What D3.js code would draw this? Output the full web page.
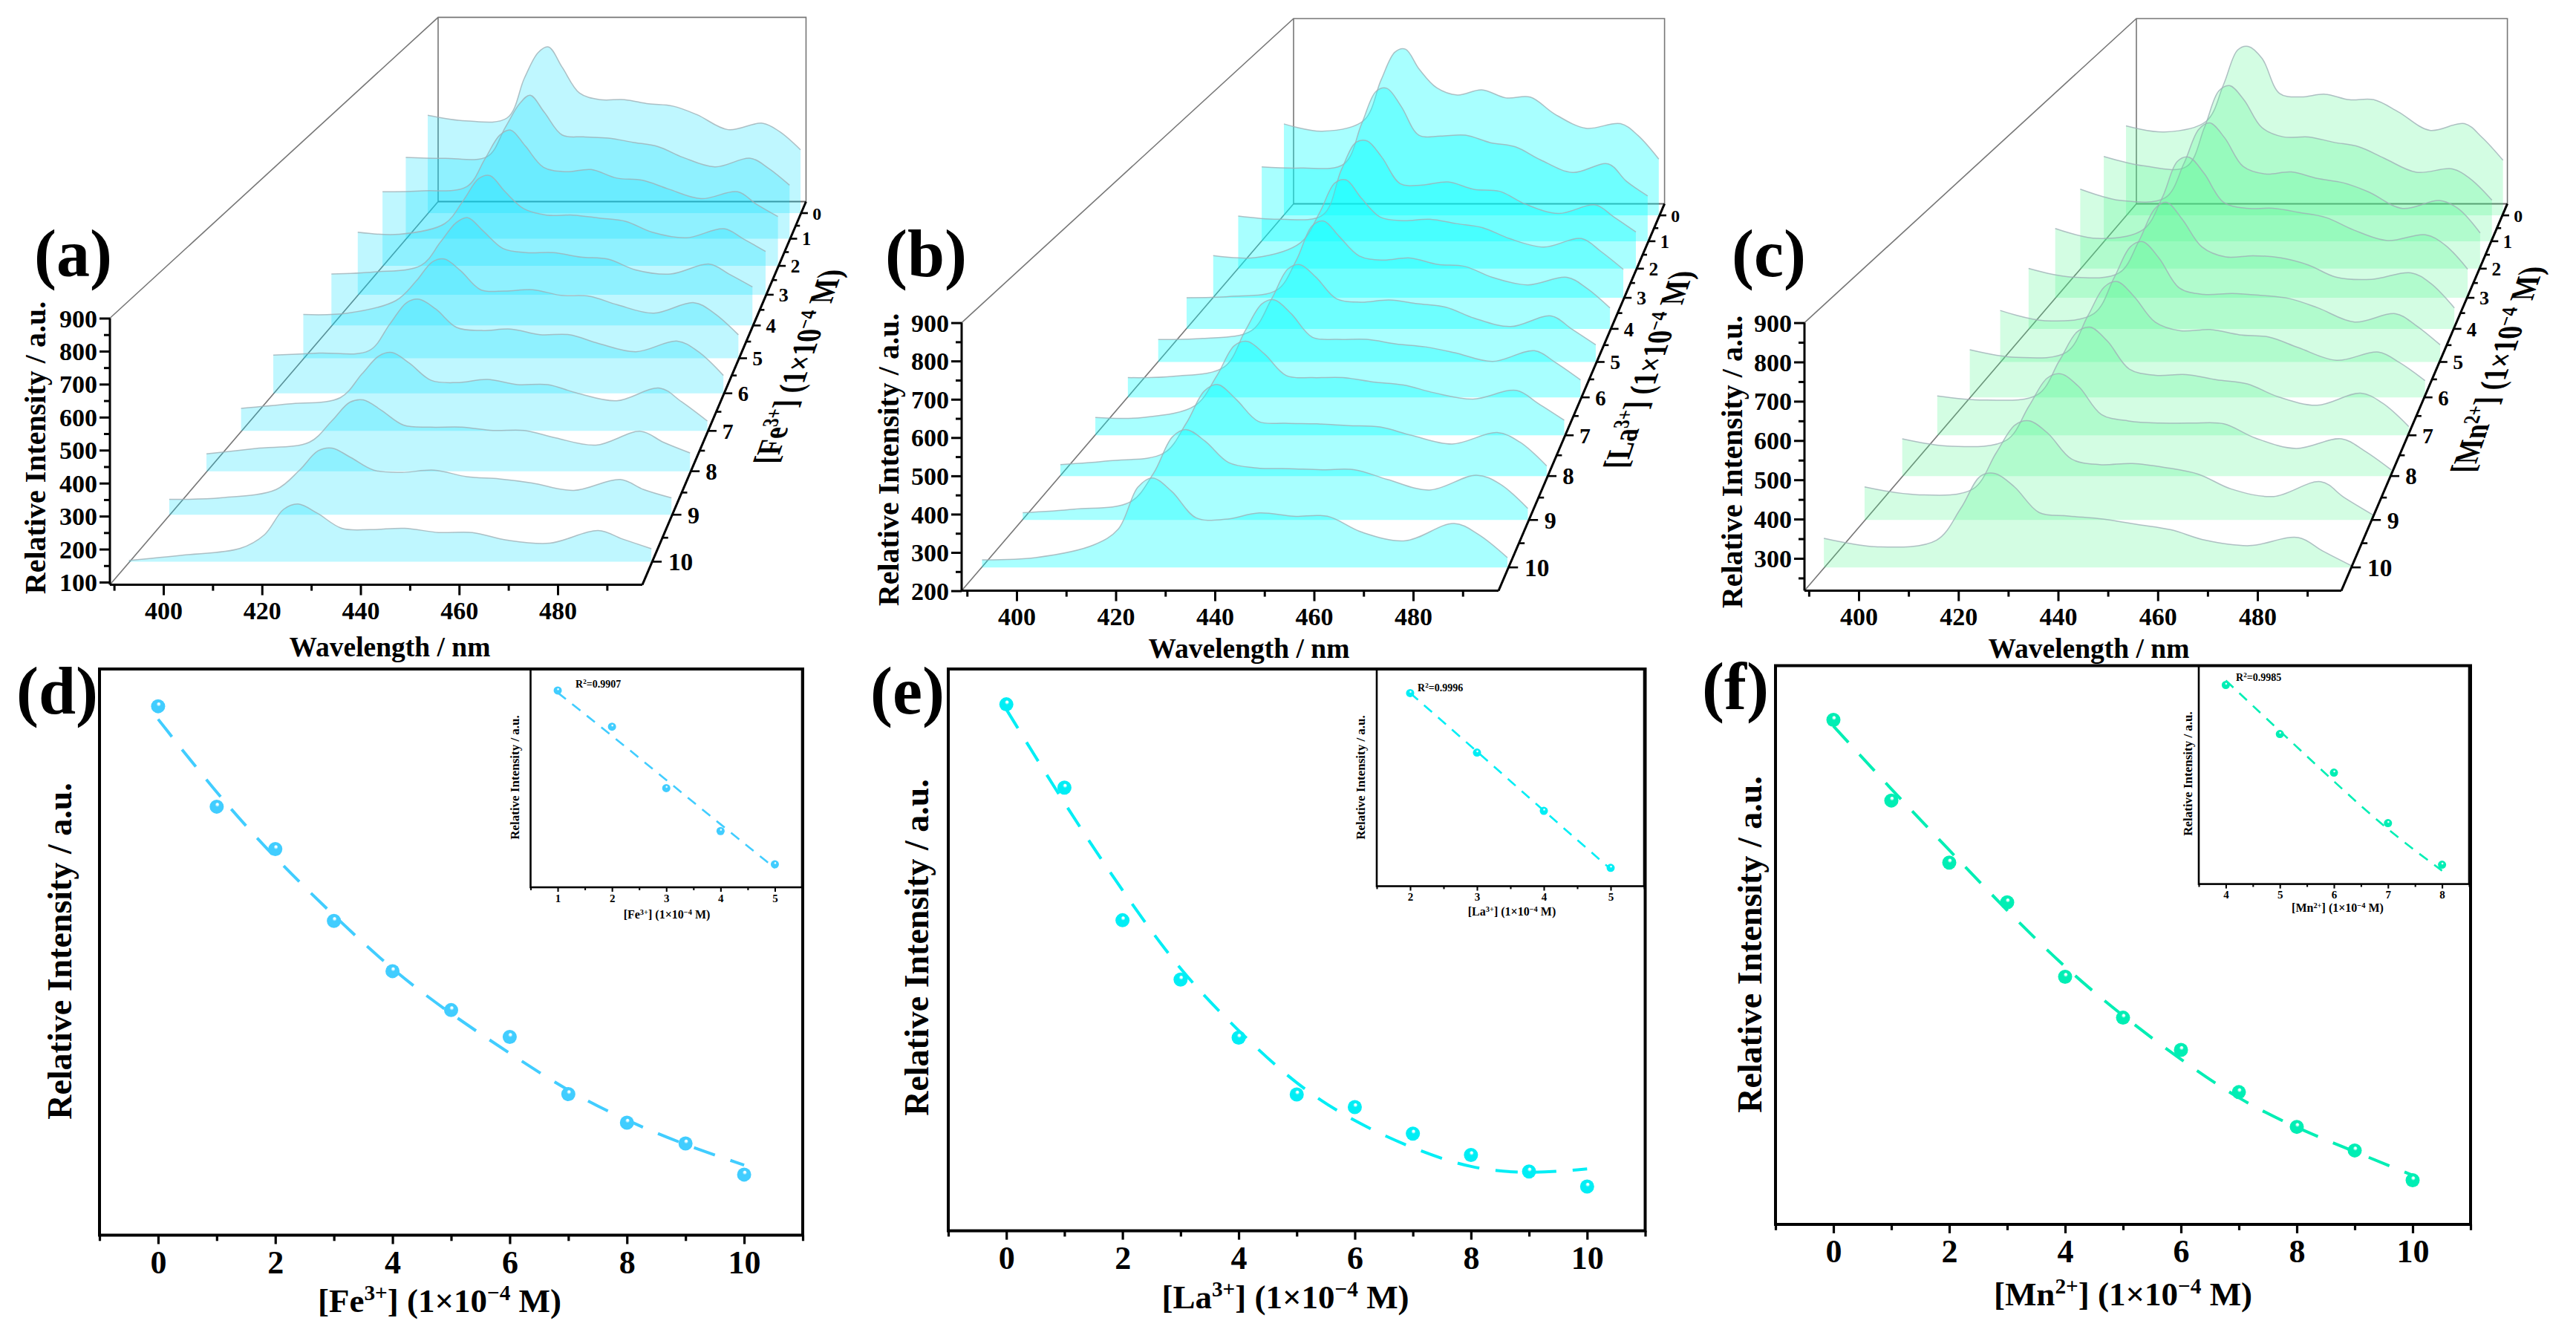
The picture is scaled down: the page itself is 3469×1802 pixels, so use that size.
<!DOCTYPE html>
<html>
<head>
<meta charset="utf-8">
<script src="https://cdn.jsdelivr.net/npm/d3@7"></script>
<style>
  body { margin: 0; background: #fff; }
  text { font-family: "Liberation Serif", serif; font-weight: bold; fill: #000; }
</style>
</head>
<body>
<svg id="chart" width="3469" height="1802"></svg>
<script>
// DATA
const wavelengths = [389, 400, 412, 417, 421, 424, 428, 433, 439, 446, 453, 460, 467, 476, 486, 491, 497];
const depthLabels = [0, 1, 2, 3, 4, 5, 6, 7, 8, 9, 10];

// spectra, one row per concentration 0..10
const feSpectra = [
  [523, 499, 512, 684, 795, 819, 730, 619, 591, 591, 573, 563, 526, 461, 489, 452, 374],
  [442, 438, 446, 568, 667, 703, 631, 536, 528, 523, 505, 487, 442, 402, 438, 397, 325],
  [402, 406, 423, 537, 633, 654, 589, 502, 484, 493, 458, 449, 414, 374, 402, 353, 301],
  [347, 339, 381, 474, 559, 571, 508, 440, 415, 415, 403, 390, 347, 325, 361, 322, 271],
  [297, 305, 330, 420, 494, 513, 461, 395, 379, 379, 362, 354, 313, 297, 335, 297, 248],
  [262, 267, 314, 386, 457, 468, 425, 354, 349, 354, 333, 330, 298, 267, 306, 267, 187],
  [237, 244, 253, 349, 425, 437, 402, 336, 325, 330, 310, 310, 279, 249, 287, 249, 164],
  [178, 193, 215, 297, 360, 371, 334, 275, 267, 278, 260, 260, 230, 204, 248, 201, 134],
  [158, 176, 197, 268, 330, 338, 304, 254, 247, 247, 236, 236, 211, 187, 233, 197, 161],
  [149, 154, 181, 243, 305, 314, 284, 243, 236, 243, 222, 215, 202, 178, 213, 181, 154],
  [104, 120, 141, 183, 262, 278, 249, 203, 199, 203, 190, 190, 167, 157, 196, 170, 140]
];
const laSpectra = [
  [541, 514, 554, 705, 809, 820, 745, 676, 649, 668, 638, 641, 578, 525, 542, 498, 410],
  [469, 465, 480, 627, 743, 754, 689, 584, 581, 584, 557, 542, 495, 449, 480, 418, 364],
  [385, 374, 389, 547, 644, 649, 592, 499, 494, 505, 479, 472, 427, 394, 424, 382, 329],
  [344, 337, 388, 490, 591, 602, 540, 475, 463, 468, 453, 439, 402, 373, 402, 359, 297],
  [303, 307, 328, 427, 540, 556, 504, 441, 427, 434, 413, 406, 370, 345, 370, 335, 269],
  [272, 275, 300, 402, 497, 511, 470, 402, 391, 398, 386, 375, 340, 313, 347, 306, 255],
  [261, 265, 294, 406, 489, 501, 458, 386, 379, 379, 365, 356, 338, 311, 344, 308, 254],
  [253, 253, 289, 378, 467, 480, 442, 378, 372, 372, 359, 350, 327, 308, 334, 295, 245],
  [233, 244, 266, 353, 445, 463, 421, 357, 352, 350, 345, 341, 317, 292, 325, 298, 229],
  [220, 230, 250, 330, 430, 450, 418, 359, 344, 342, 339, 339, 312, 283, 324, 300, 232],
  [220, 226, 260, 302, 413, 438, 402, 332, 328, 345, 336, 336, 294, 271, 317, 288, 226]
];
const mnSpectra = [
  [543, 521, 560, 695, 819, 832, 788, 661, 648, 658, 638, 638, 594, 527, 551, 501, 418],
  [517, 484, 481, 619, 748, 767, 717, 619, 586, 586, 567, 551, 511, 461, 473, 438, 363],
  [490, 451, 461, 578, 695, 717, 666, 568, 542, 549, 527, 512, 480, 424, 451, 424, 340],
  [448, 415, 444, 550, 671, 685, 631, 536, 515, 515, 501, 484, 444, 408, 427, 394, 313],
  [412, 384, 398, 501, 604, 625, 570, 481, 449, 453, 446, 423, 384, 377, 398, 364, 285],
  [378, 346, 368, 481, 577, 592, 541, 448, 428, 431, 425, 415, 386, 342, 368, 332, 271],
  [361, 338, 354, 463, 551, 566, 521, 444, 418, 422, 406, 399, 367, 329, 354, 322, 268],
  [332, 320, 336, 435, 518, 532, 491, 410, 392, 394, 379, 367, 330, 305, 340, 311, 243],
  [322, 301, 318, 414, 492, 504, 468, 390, 372, 366, 366, 364, 324, 295, 322, 289, 235],
  [307, 286, 301, 399, 474, 485, 451, 382, 367, 370, 359, 341, 301, 281, 321, 278, 232],
  [293, 271, 288, 371, 454, 461, 426, 360, 351, 343, 329, 315, 288, 274, 295, 260, 221]
];

// quenching curves
const concentration = [0, 1, 2, 3, 4, 5, 6, 7, 8, 9, 10];
const feIntensity = [819, 703, 654, 571, 513, 468, 437, 371, 338, 314, 278];
const feFit = [804, 718, 643, 577, 514, 463, 418, 374, 340, 312, 289];
const laIntensity = [820, 754, 649, 602, 556, 511, 501, 480, 463, 450, 438];
const laFit = [816, 741, 672, 608, 561, 518, 489, 468, 452, 448, 452];
const mnIntensity = [832, 767, 717, 685, 625, 592, 566, 532, 504, 485, 461];
const mnFit = [827, 776, 727, 678, 632, 593, 558, 526, 503, 484, 465];

// insets
const feInsetConc = [1, 2, 3, 4, 5];
const feInsetIntensity = [703, 654, 571, 513, 468];
const feInsetFit = [700, 642, 582, 522, 463];
const laInsetConc = [2, 3, 4, 5];
const laInsetIntensity = [649, 602, 556, 511];
const laInsetFit = [649, 603, 556, 510];
const mnInsetConc = [4, 5, 6, 7, 8];
const mnInsetIntensity = [625, 592, 566, 532, 504];
const mnInsetFit = [628, 594, 560, 527, 500];

const svg = d3.select("#chart");
const defs = svg.append("defs");

// perspective: 1/s goes linear with the concentration
const depthScale = d3.scaleLinear().domain([0, 10]).range([1.428, 1.019]);
const BACK_S = 0.691;
const shrink = c => 1 / depthScale(c);

function ionLabel(sel, ion, charge) {
  sel.append("tspan").text("[" + ion);
  sel.append("tspan").attr("font-size", "65%").attr("baseline-shift", "super").text(charge);
  sel.append("tspan").text("] (1×10");
  sel.append("tspan").attr("font-size", "65%").attr("baseline-shift", "super").text("−4");
  sel.append("tspan").text(" M)");
}

function drawSpectra(p) {
  const g = svg.append("g");
  const xScale = d3.scaleLinear().domain([400, 480]).range([p.x400, p.x480]);
  const yScale = d3.scaleLinear().domain([p.yLow, 900]).range([p.yLowPx, p.y900]);

  // vanishing point from front and back corners of the box
  const vpX = (p.backLeft - BACK_S * p.left) / (1 - BACK_S);
  const vpY = (p.backFloor - BACK_S * p.floor) / (1 - BACK_S);
  const px = (X, s) => vpX + (X - vpX) * s;
  const py = (Y, s) => vpY + (Y - vpY) * s;

  // the box
  const boxRight = px(p.right, BACK_S);
  const boxTop = py(p.y900, BACK_S);
  const box = d3.path();
  box.moveTo(p.left, p.y900); box.lineTo(p.backLeft, boxTop); box.lineTo(boxRight, boxTop); box.lineTo(boxRight, p.backFloor);
  box.moveTo(p.backLeft, boxTop); box.lineTo(p.backLeft, p.backFloor);
  box.moveTo(p.left, p.floor); box.lineTo(p.backLeft, p.backFloor);
  g.append("path").attr("d", box.toString()).attr("fill", "none").attr("stroke", "#777").attr("stroke-width", 1.6);
  g.append("line").attr("x1", p.backLeft).attr("y1", p.backFloor).attr("x2", boxRight).attr("y2", p.backFloor)
    .attr("stroke", "#666").attr("stroke-width", 2);

  // back to front so that the front curve ends on top
  p.spectra.forEach((row, c) => {
    const s = shrink(c);
    const pts = row.map((v, i) => ({ x: px(xScale(wavelengths[i]), s), y: py(yScale(v + p.shift), s) }));
    const curve = d3.curveCatmullRom.alpha(0.5);
    const area = d3.area().x(d => d.x).y1(d => d.y).y0(py(p.floor, s)).curve(curve);
    const line = d3.line().x(d => d.x).y(d => d.y).curve(curve);
    g.append("path").attr("d", area(pts)).attr("fill", p.fill).attr("fill-opacity", p.alpha);
    g.append("path").attr("d", line(pts)).attr("fill", "none").attr("stroke", "#9fb0b6").attr("stroke-opacity", 0.8).attr("stroke-width", 1.5);
  });

  // front axes
  const xAxis = d3.axisBottom(xScale).tickValues(d3.range(390, 500, 10))
    .tickFormat(d => d % 20 === 0 ? d : "").tickSizeOuter(0);
  const gx = g.append("g").attr("transform", `translate(0,${p.floor})`).call(xAxis);
  gx.select(".domain").remove();
  gx.append("line").attr("x1", p.left).attr("x2", p.right).attr("stroke", "#000").attr("stroke-width", 3);
  gx.selectAll(".tick line").attr("stroke-width", 3).attr("y2", d => d % 20 === 0 ? 14 : 8);
  gx.selectAll(".tick text").attr("font-size", 34).attr("y", 22).attr("dy", "0.71em");

  const yAxis = d3.axisLeft(yScale).tickValues(p.yTicks)
    .tickFormat(d => d % 100 === 0 ? d : "").tickSizeOuter(0);
  const gy = g.append("g").attr("transform", `translate(${p.left},0)`).call(yAxis);
  gy.select(".domain").remove();
  gy.append("line").attr("y1", p.y900).attr("y2", p.floor).attr("stroke", "#000").attr("stroke-width", 3);
  gy.selectAll(".tick line").attr("stroke-width", 3).attr("x2", d => d % 100 === 0 ? -14 : -8);
  gy.selectAll(".tick text").attr("font-size", 34).attr("x", -17).attr("dy", "0.34em");

  // depth axis along the right floor edge
  g.append("line").attr("x1", p.right).attr("y1", p.floor)
    .attr("x2", boxRight).attr("y2", p.backFloor).attr("stroke", "#000").attr("stroke-width", 3);
  d3.range(0, 10.5, 0.5).forEach(c => {
    const s = shrink(c);
    const x0 = px(p.right, s), y0 = py(p.floor, s);
    const major = c % 1 === 0;
    g.append("line").attr("x1", x0).attr("y1", y0).attr("x2", x0 + (major ? 13 : 8) * s).attr("y2", y0)
      .attr("stroke", "#000").attr("stroke-width", 2.6);
  });
  depthLabels.forEach(c => {
    const s = shrink(c);
    g.append("text").attr("x", px(p.right, s) + 22 * s).attr("y", py(p.floor, s))
      .attr("dy", "0.36em").attr("font-size", 34 * s).text(c);
  });

  // titles
  g.append("text").attr("text-anchor", "middle").attr("font-size", 37.5)
    .attr("transform", `translate(${p.xTitle[0]},${p.xTitle[1]})`).text("Wavelength / nm");
  g.append("text").attr("text-anchor", "middle").attr("font-size", 40)
    .attr("transform", `translate(${p.yTitle[0]},${p.yTitle[1]}) rotate(-90)`).text("Relative Intensity / a.u.");
  // the depth title lies in the side plane: baseline up the edge, glyphs sheared to stay level
  g.append("text").attr("text-anchor", "middle").attr("font-size", 38)
    .attr("transform", `matrix(0.326,-0.945,1.2,0,${p.zTitle[0]},${p.zTitle[1]})`).call(ionLabel, p.ion, p.charge);
  g.append("text").attr("font-size", 90).attr("x", p.letter[0]).attr("y", p.letter[1]).text(p.tag);
}

function sphere(id, color) {
  const grad = defs.append("radialGradient").attr("id", id).attr("cx", 0.5).attr("cy", 0.5).attr("r", 0.5)
    .attr("fx", 0.56).attr("fy", 0.3);
  grad.append("stop").attr("offset", "0%").attr("stop-color", "#fff");
  grad.append("stop").attr("offset", "14%").attr("stop-color", "#f0feff");
  grad.append("stop").attr("offset", "32%").attr("stop-color", color);
  grad.append("stop").attr("offset", "100%").attr("stop-color", color);
}

function drawScatter(p, o) {
  const g = svg.append("g");
  const xScale = d3.scaleLinear().domain(o.xDomain).range([o.left, o.right]);
  const yScale = d3.scaleLinear().domain(o.yDomain).range([o.bottom, o.top]);

  const fit = d3.line().x((d, i) => xScale(o.conc[i])).y(d => yScale(d)).curve(d3.curveBasis);
  g.append("path").attr("d", fit(o.fit)).attr("fill", "none").attr("stroke", p.color)
    .attr("stroke-width", o.lineWidth).attr("stroke-dasharray", o.dash);

  g.selectAll("circle").data(o.values).join("circle")
    .attr("cx", (d, i) => xScale(o.conc[i])).attr("cy", d => yScale(d))
    .attr("r", o.r).attr("fill", `url(#${p.gradient})`);

  g.append("rect").attr("x", o.left).attr("y", o.top).attr("width", o.right - o.left).attr("height", o.bottom - o.top)
    .attr("fill", "none").attr("stroke", "#000").attr("stroke-width", o.frame);

  const axis = d3.axisBottom(xScale).tickValues(o.ticks).tickSizeOuter(0)
    .tickFormat(d => o.labels.includes(d) ? d : "");
  const gx = g.append("g").attr("transform", `translate(0,${o.bottom})`).call(axis);
  gx.select(".domain").remove();
  gx.selectAll(".tick line").attr("stroke-width", o.frame * 0.8)
    .attr("y2", d => o.labels.includes(d) ? o.tick : o.tick * 0.65);
  gx.selectAll(".tick text").attr("font-size", o.tickFont).attr("y", o.tickGap).attr("dy", "0.71em");

  g.append("text").attr("text-anchor", "middle").attr("font-size", o.titleFont)
    .attr("x", o.xTitle[0]).attr("y", o.xTitle[1]).call(ionLabel, p.ion, p.charge);
  g.append("text").attr("text-anchor", "middle").attr("font-size", o.yFont)
    .attr("transform", `translate(${o.yTitle[0]},${o.yTitle[1]}) rotate(-90)`).text("Relative Intensity / a.u.");
  if (o.r2) {
    const t = g.append("text").attr("font-size", 14).attr("x", o.r2[0]).attr("y", o.r2[1]);
    t.append("tspan").text("R");
    t.append("tspan").attr("font-size", "65%").attr("baseline-shift", "super").text("2");
    t.append("tspan").text("=" + o.r2[2]);
  }
  if (o.letter) g.append("text").attr("font-size", 90).attr("x", o.letter[0]).attr("y", o.letter[1]).text(o.tag);
}

// top row
drawSpectra({ tag: "(a)", ion: "Fe", charge: "3+", spectra: feSpectra, fill: "rgb(0,225,255)", alpha: 0.25, shift: -8,
  left: 148, right: 865, floor: 787.6, backLeft: 590, backFloor: 271.5, x400: 220, x480: 751,
  yLow: 100, yLowPx: 784, y900: 428.5, yTicks: d3.range(100, 950, 50),
  xTitle: [525, 884], yTitle: [61, 603], zTitle: [1090, 494], letter: [46, 372] });
drawSpectra({ tag: "(b)", ion: "La", charge: "3+", spectra: laSpectra, fill: "rgb(0,255,255)", alpha: 0.34, shift: 0,
  left: 1295, right: 2018, floor: 795.6, backLeft: 1742, backFloor: 274.4, x400: 1369, x480: 1903,
  yLow: 200, yLowPx: 795.6, y900: 434.6, yTicks: d3.range(200, 950, 50),
  xTitle: [1682, 886], yTitle: [1210, 619], zTitle: [2235, 498], letter: [1192, 372] });
drawSpectra({ tag: "(c)", ion: "Mn", charge: "2+", spectra: mnSpectra, fill: "rgb(70,245,140)", alpha: 0.24, shift: 0,
  left: 2430, right: 3153, floor: 795.6, backLeft: 2877, backFloor: 274.4, x400: 2503, x480: 3040,
  yLow: 217.6, yLowPx: 795.6, y900: 434.6, yTicks: d3.range(250, 950, 50),
  xTitle: [2813, 886], yTitle: [2346, 622], zTitle: [3378, 498], letter: [2332, 372] });

// bottom row
const scatterStyle = { frame: 4, r: 9.5, lineWidth: 4, dash: "30 22", tick: 12, tickFont: 44, tickGap: 20, titleFont: 45, yFont: 46 };
const insetStyle = { frame: 2.6, r: 5.5, lineWidth: 2.6, dash: "14 11", tick: 6, tickFont: 15, tickGap: 9, titleFont: 16, yFont: 17 };

const panels = [
  { ion: "Fe", charge: "3+", color: "rgb(65,205,255)", gradient: "ball-fe" },
  { ion: "La", charge: "3+", color: "rgb(0,238,245)", gradient: "ball-la" },
  { ion: "Mn", charge: "2+", color: "rgb(0,238,180)", gradient: "ball-mn" }
];
panels.forEach(p => sphere(p.gradient, p.color));

drawScatter(panels[0], { ...scatterStyle, tag: "(d)", conc: concentration, values: feIntensity, fit: feFit,
  xDomain: [-1, 11], yDomain: [208, 862], left: 134, right: 1081, top: 901, bottom: 1663.5,
  ticks: d3.range(-1, 12), labels: [0, 2, 4, 6, 8, 10], xTitle: [592, 1767], yTitle: [96, 1281], letter: [22, 961] });
drawScatter(panels[0], { ...insetStyle, conc: feInsetConc, values: feInsetIntensity, fit: feInsetFit,
  xDomain: [0.5, 5.5], yDomain: [437, 732], left: 714.5, right: 1080, top: 901, bottom: 1195,
  ticks: d3.range(0.5, 6, 0.5), labels: feInsetConc, xTitle: [898, 1237], yTitle: [699, 1047], r2: [775, 926, "0.9907"] });

drawScatter(panels[1], { ...scatterStyle, tag: "(e)", conc: concentration, values: laIntensity, fit: laFit,
  xDomain: [-1, 11], yDomain: [403, 848], left: 1277, right: 2215.5, top: 901, bottom: 1657.6,
  ticks: d3.range(-1, 12), labels: [0, 2, 4, 6, 8, 10], xTitle: [1731, 1762], yTitle: [1250, 1276], letter: [1172, 961] });
drawScatter(panels[1], { ...insetStyle, conc: laInsetConc, values: laInsetIntensity, fit: laInsetFit,
  xDomain: [1.5, 5.5], yDomain: [496.5, 668], left: 1854, right: 2214, top: 901, bottom: 1193.5,
  ticks: d3.range(1.5, 6, 0.5), labels: laInsetConc, xTitle: [2036, 1233], yTitle: [1838, 1047], r2: [1909, 931, "0.9996"] });

drawScatter(panels[2], { ...scatterStyle, tag: "(f)", conc: concentration, values: mnIntensity, fit: mnFit,
  xDomain: [-1, 11], yDomain: [425.4, 875.7], left: 2391, right: 3327, top: 896.5, bottom: 1649,
  ticks: d3.range(-1, 12), labels: [0, 2, 4, 6, 8, 10], xTitle: [2859, 1758], yTitle: [2372, 1272], letter: [2292, 955] });
drawScatter(panels[2], { ...insetStyle, conc: mnInsetConc, values: mnInsetIntensity, fit: mnInsetFit,
  xDomain: [3.5, 8.5], yDomain: [491, 638], left: 2961, right: 3325, top: 896.5, bottom: 1190.6,
  ticks: d3.range(3.5, 9, 0.5), labels: mnInsetConc, xTitle: [3148, 1228], yTitle: [2952, 1042], r2: [3011, 917, "0.9985"] });
</script>
</body>
</html>
